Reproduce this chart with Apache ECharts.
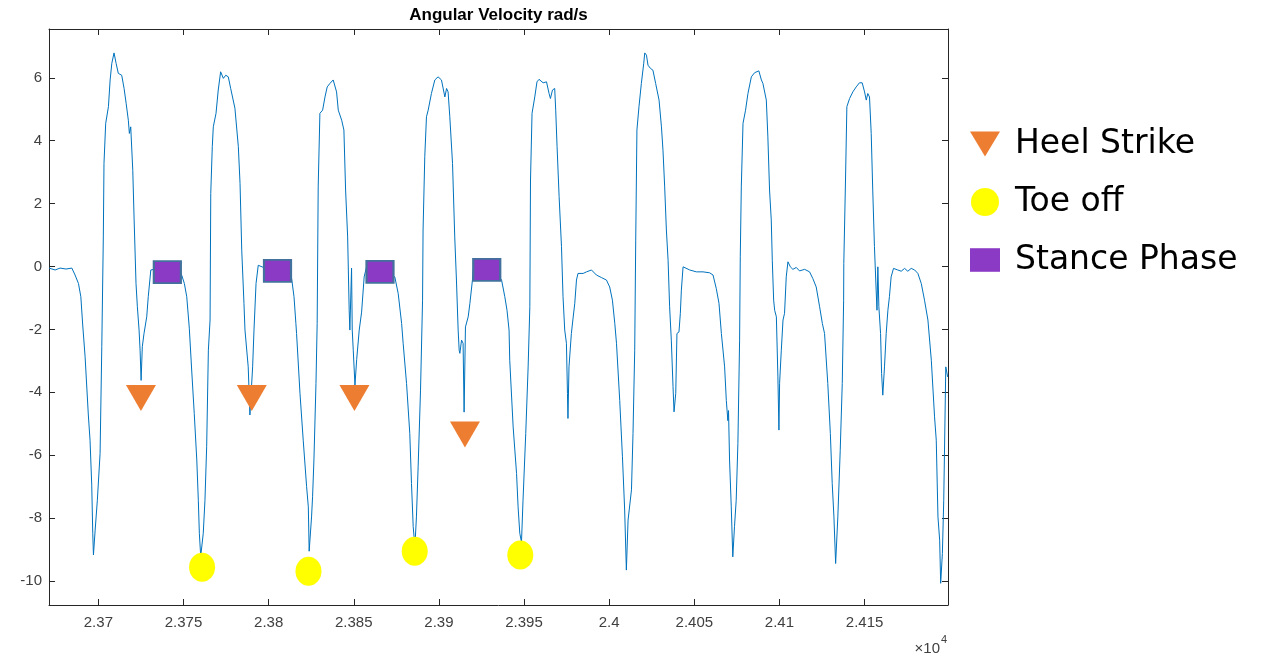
<!DOCTYPE html>
<html>
<head>
<meta charset="utf-8">
<script src="https://cdn.jsdelivr.net/npm/echarts@6/dist/echarts.min.js"></script>
<style>
  html, body { margin: 0; padding: 0; background: #fff; }
  #chart { width: 1266px; height: 656px; }
</style>
</head>
<body>
<div id="chart"></div>
<script>
// Gyroscope trace: sample index and angular velocity (rad/s)
const sampleIdx = [
  23671.0, 23674.6, 23677.5, 23681.0, 23684.4, 23686.3, 23688.3, 23689.7, 23690.8, 23692.2,
  23694.1, 23695.1, 23696.1, 23696.7, 23697.1, 23698.1, 23699.4, 23701.0, 23702.0, 23702.9,
  23703.3, 23704.3, 23705.9, 23706.9, 23707.9, 23709.2, 23710.4, 23711.7, 23713.7, 23715.1,
  23716.3, 23717.6, 23718.2, 23719.0, 23720.2, 23721.0, 23722.1, 23722.9, 23723.9, 23724.5,
  23725.1, 23725.8, 23726.8, 23728.4, 23729.3, 23730.8, 23731.7, 23736.3, 23742.1, 23748.0,
  23748.9, 23750.5, 23751.9, 23753.4, 23754.8, 23756.3, 23757.8, 23758.7, 23759.3, 23760.1,
  23761.6, 23762.6, 23763.6, 23764.6, 23765.6, 23766.0, 23766.9, 23767.5, 23769.1, 23770.4,
  23771.8, 23773.4, 23774.8, 23776.3, 23777.7, 23780.2, 23782.2, 23783.2, 23784.2, 23785.5,
  23786.1, 23788.0, 23789.0, 23790.6, 23791.4, 23792.6, 23793.9, 23797.8, 23803.7, 23809.6,
  23813.5, 23814.9, 23816.0, 23816.4, 23818.4, 23820.3, 23822.3, 23823.3, 23823.8, 23825.2,
  23825.8, 23826.6, 23827.8, 23828.5, 23829.1, 23830.1, 23831.7, 23833.1, 23834.4, 23836.0,
  23837.9, 23839.9, 23840.9, 23842.9, 23844.2, 23845.2, 23846.4, 23847.3, 23847.7, 23848.7,
  23849.1, 23849.7, 23850.7, 23851.7, 23853.2, 23854.6, 23856.1, 23857.5, 23862.4, 23868.3,
  23874.1, 23876.1, 23878.1, 23879.0, 23881.0, 23882.9, 23883.9, 23884.9, 23885.9, 23886.8,
  23887.8, 23889.2, 23890.4, 23890.7, 23891.7, 23892.7, 23893.7, 23895.6, 23897.6, 23899.5,
  23901.5, 23903.5, 23904.5, 23905.4, 23906.4, 23908.0, 23909.3, 23910.3, 23911.3, 23911.9,
  23912.3, 23913.3, 23914.2, 23914.8, 23915.6, 23917.2, 23918.2, 23919.7, 23920.5, 23927.0,
  23932.8, 23936.8, 23938.7, 23940.0, 23941.2, 23941.6, 23943.6, 23945.6, 23946.5, 23947.5,
  23948.5, 23949.4, 23951.0, 23952.4, 23953.4, 23953.8, 23954.7, 23956.3, 23957.6, 23958.8,
  23961.2, 23963.2, 23964.7, 23965.5, 23966.7, 23968.0, 23968.6, 23969.4, 23970.6, 23972.0,
  23972.9, 23973.9, 23974.9, 23975.5, 23975.8, 23976.4, 23977.8, 23978.8, 23979.8, 23980.8,
  23981.7, 23982.7, 23984.7, 23986.7, 23989.6, 23992.5, 23995.4, 23998.4, 24000.3, 24001.9,
  24003.3, 24004.3, 24006.2, 24007.8, 24009.1, 24010.1, 24011.1, 24013.1, 24014.0, 24015.0,
  24015.6, 24016.3, 24017.5, 24018.9, 24020.3, 24020.9, 24021.9, 24022.8, 24024.2, 24025.7,
  24027.3, 24029.3, 24030.7, 24031.6, 24032.6, 24033.6, 24034.6, 24035.5, 24036.5, 24037.5,
  24038.1, 24039.1, 24039.8, 24041.0, 24041.8, 24042.4, 24043.4, 24044.4, 24047.3, 24051.2,
  24055.1, 24059.0, 24061.0, 24062.9, 24064.5, 24065.9, 24067.8, 24068.8, 24069.7, 24070.1,
  24070.7, 24071.7, 24072.6, 24073.6, 24074.6, 24075.6, 24076.6, 24077.0, 24077.6, 24078.6,
  24080.1, 24081.5, 24083.5, 24085.4, 24087.9, 24089.4, 24090.3, 24091.3, 24092.3, 24093.2,
  24094.2, 24095.2, 24095.8, 24096.6, 24097.2, 24098.2, 24099.1, 24099.7, 24100.1, 24101.1,
  24102.1, 24103.0, 24104.0, 24105.0, 24106.4, 24107.9, 24109.9, 24111.8, 24114.8, 24117.7,
  24119.6, 24121.6, 24123.6, 24125.2, 24126.5, 24128.4, 24129.9, 24131.0, 24132.0, 24133.0,
  24134.3, 24135.7, 24136.9, 24137.7, 24137.8, 24138.8, 24139.6, 24141.2, 24143.1, 24145.1,
  24147.0, 24148.6, 24150.0, 24151.0, 24151.9, 24152.9, 24153.9, 24154.8, 24155.8, 24156.8,
  24157.3, 24157.8, 24158.4, 24159.4, 24160.0, 24160.7, 24161.7, 24162.7, 24163.7, 24164.6,
  24165.6, 24167.0, 24169.5, 24171.5, 24173.5, 24175.4, 24177.4, 24179.4, 24181.3, 24183.3,
  24185.2, 24187.2, 24189.2, 24191.1, 24192.1, 24193.1, 24194.1, 24194.7, 24195.7, 24196.5,
  24197.7, 24198.8
];
const angVel = [
  -0.05, -0.11, -0.05, -0.08, -0.05, -0.27, -0.54, -0.96, -1.86, -2.87,
  -4.72, -5.52, -6.95, -8.48, -9.17, -8.38, -7.43, -5.94, -2.55, 0.94,
  3.28, 4.55, 5.08, 5.93, 6.46, 6.79, 6.46, 6.14, 6.08, 5.66,
  5.19, 4.65, 4.23, 4.44, 3.06, 1.48, -0.54, -1.28, -2.02, -2.66,
  -3.62, -2.55, -2.13, -1.60, -0.96, -0.11, -0.05, -0.05, -0.08, -0.15,
  -0.27, -0.54, -0.96, -1.96, -3.29, -4.67, -6.15, -7.43, -8.48, -9.21,
  -8.48, -7.43, -5.73, -2.66, -1.70, 2.32, 3.81, 4.44, 4.87, 5.61,
  6.19, 5.98, 6.08, 6.03, 5.66, 5.03, 3.81, 2.64, 0.52, -1.17,
  -2.02, -3.19, -4.72, -3.19, -2.02, -0.54, 0.04, -0.05, -0.08, -0.18,
  -0.38, -0.96, -1.81, -2.13, -4.03, -5.52, -7.00, -7.64, -9.05, -7.96,
  -7.32, -6.15, -3.72, -1.81, 2.53, 4.87, 4.97, 5.39, 5.71, 5.82,
  5.93, 5.55, 4.97, 4.65, 4.34, 2.43, 0.94, -1.39, -2.02, -0.05,
  -2.02, -2.66, -3.77, -2.96, -2.02, -1.45, -0.33, -0.01, -0.05, -0.11,
  -0.33, -0.86, -1.81, -2.44, -3.72, -5.31, -6.90, -8.27, -8.90, -7.96,
  -6.37, -3.93, -1.07, 1.16, 3.49, 4.76, 4.97, 5.50, 5.93, 6.03,
  5.93, 5.39, 5.66, 5.55, 4.76, 3.28, 0.94, -0.43, -2.02, -2.66,
  -2.76, -2.34, -2.44, -4.63, -1.92, -1.60, -1.17, -0.43, 0.10, 0.01,
  -0.11, -0.43, -0.96, -1.39, -2.02, -2.98, -5.10, -6.58, -7.64, -8.48,
  -8.76, -7.43, -5.31, -3.19, -1.28, 2.75, 4.87, 5.39, 5.87, 5.95,
  5.84, 5.87, 5.50, 5.34, 5.61, 5.66, 4.97, 3.81, 2.22, 0.63,
  -0.96, -2.02, -2.44, -4.03, -4.83, -3.19, -2.13, -1.64, -1.17, -0.43,
  -0.22, -0.17, -0.22, -0.17, -0.11, -0.27, -0.35, -0.43, -0.65, -1.07,
  -1.81, -2.44, -4.26, -6.05, -7.74, -9.65, -8.06, -7.10, -5.31, -2.66,
  0.84, 4.34, 5.08, 5.82, 6.46, 6.79, 6.72, 6.40, 6.30, 6.24,
  5.82, 5.29, 4.44, 3.70, 2.53, 1.16, 0.20, -1.28, -2.34, -3.82,
  -4.62, -4.03, -2.13, -2.08, -1.49, -0.75, -0.01, -0.06, -0.11, -0.17,
  -0.17, -0.20, -0.27, -0.70, -1.17, -2.13, -3.19, -4.26, -4.90, -4.58,
  -6.15, -7.64, -9.23, -8.27, -7.43, -5.62, -2.34, 0.31, 2.53, 4.55,
  4.97, 5.50, 6.03, 6.16, 6.22, 5.93, 5.82, 5.87, 5.29, 4.12,
  2.43, 1.48, 0.20, -1.07, -1.39, -1.60, -3.51, -5.20, -3.71, -2.66,
  -1.70, -1.49, -0.33, 0.15, -0.01, -0.09, -0.03, -0.14, -0.09, -0.17,
  -0.38, -0.65, -1.28, -1.81, -2.13, -3.72, -5.31, -6.90, -7.96, -9.44,
  -7.96, -5.84, -3.72, -1.07, 0.10, 2.75, 5.08, 5.34, 5.55, 5.71,
  5.84, 5.84, 5.55, 5.29, 5.50, 5.39, 4.23, 2.43, 0.63, -0.75,
  -1.39, -0.01, -1.28, -2.13, -3.40, -4.09, -3.19, -2.13, -1.39, -0.96,
  -0.33, -0.06, -0.11, -0.15, -0.06, -0.15, -0.06, -0.11, -0.22, -0.54,
  -1.07, -1.70, -2.98, -4.78, -5.52, -7.96, -8.70, -10.07, -9.12, -7.43,
  -3.19, -3.51
];

// Gait events
const heelStrikeX = [23725.0, 23790.1, 23850.4, 23915.3];
const heelStrikeY = [-4.18, -4.18, -4.18, -5.34];
const toeOffX = [23760.9, 23823.4, 23885.8, 23947.8];
const toeOffY = [-9.56, -9.69, -9.05, -9.17];
const stanceX = [23740.5, 23805.2, 23865.4, 23928.1];
const stanceY = [-0.18, -0.14, -0.17, -0.11];

// Axis extents
const xRange = [23671, 24199];
const yRange = [-10.76, 7.55];

const pairs = (xs, ys) => xs.map((x, i) => [x, ys[i]]);

const axisColor = '#262626';
const labelColor = '#404040';
const axisFont = 'Liberation Sans, Arial, Helvetica, sans-serif';
const downTriangle = 'path://M0,0 L31,0 L15.5,26 Z';
const box = 'path://M0,0 L28,0 L28,22 L0,22 Z';

const fmtX = v => String(parseFloat((v / 1e4).toFixed(4)));

function xAxisDef(pos, showLabels) {
  return {
    type: 'value', position: pos, min: xRange[0], max: xRange[1], splitNumber: 10,
    axisLine: { show: true, onZero: false, lineStyle: { color: axisColor, width: 1 } },
    axisTick: { show: true, inside: true, length: 6, lineStyle: { color: axisColor, width: 1 } },
    axisLabel: {
      show: showLabels, showMinLabel: false, showMaxLabel: false, formatter: fmtX,
      color: labelColor, fontSize: 15, fontFamily: axisFont, margin: 10
    },
    splitLine: { show: false }
  };
}
function yAxisDef(pos, showLabels) {
  return {
    type: 'value', position: pos, min: yRange[0], max: yRange[1], splitNumber: 9,
    axisLine: { show: true, onZero: false, lineStyle: { color: axisColor, width: 1 } },
    axisTick: { show: true, inside: true, length: 6, lineStyle: { color: axisColor, width: 1 } },
    axisLabel: {
      show: showLabels, showMinLabel: false, showMaxLabel: false,
      color: labelColor, fontSize: 15, fontFamily: axisFont, margin: 7
    },
    splitLine: { show: false }
  };
}

const chart = echarts.init(document.getElementById('chart'));
chart.setOption({
  animation: false,
  backgroundColor: '#ffffff',
  title: {
    text: 'Angular Velocity rad/s',
    left: 498.5, top: 7, padding: 0, textAlign: 'center',
    textStyle: { fontFamily: axisFont, fontWeight: 'bold', fontSize: 17, color: '#000' }
  },
  grid: { left: 49, right: 318, top: 29, bottom: 51, containLabel: false },
  xAxis: [xAxisDef('bottom', true), xAxisDef('top', false)],
  yAxis: [yAxisDef('left', true), yAxisDef('right', false)],
  legend: {
    orient: 'vertical', left: 970, top: 123, padding: 0,
    itemWidth: 30, itemHeight: 28, itemGap: 16,
    selectedMode: false,
    textStyle: { fontFamily: 'DejaVu Sans, sans-serif', fontSize: 33, color: '#000', lineHeight: 36, padding: [6, 0, 0, 10] },
    data: [
      { name: 'Heel Strike', icon: downTriangle },
      { name: 'Toe off', icon: 'circle' },
      { name: 'Stance Phase', icon: box, itemStyle: { borderWidth: 0 } }
    ]
  },
  graphic: [
    { type: 'text', x: 940, y: 649, style: { text: '×10', font: '15px Liberation Sans, Arial, sans-serif', fill: labelColor, align: 'right', textAlign: 'right', verticalAlign: 'middle', textVerticalAlign: 'middle' } },
    { type: 'text', x: 941, y: 640, style: { text: '4', font: '11px Liberation Sans, Arial, sans-serif', fill: labelColor, align: 'left', textAlign: 'left', verticalAlign: 'middle', textVerticalAlign: 'middle' } }
  ],
  series: [
    {
      name: 'Angular Velocity', type: 'line', xAxisIndex: 0, yAxisIndex: 0,
      data: pairs(sampleIdx, angVel), showSymbol: false, symbol: 'none',
      lineStyle: { color: '#0072BD', width: 1 }, silent: true, z: 2
    },
    {
      name: 'Heel Strike', type: 'scatter', data: pairs(heelStrikeX, heelStrikeY),
      symbol: downTriangle, symbolSize: [30, 26], itemStyle: { color: '#ED7D31', opacity: 1 }, z: 5
    },
    {
      name: 'Toe off', type: 'scatter', data: pairs(toeOffX, toeOffY),
      symbol: 'circle', symbolSize: [26, 29], itemStyle: { color: '#FFFF00', opacity: 1 }, z: 5
    },
    {
      name: 'Stance Phase', type: 'scatter', data: pairs(stanceX, stanceY),
      symbol: 'rect', symbolSize: [27, 22],
      itemStyle: { color: '#8B3AC6', borderColor: '#41719C', borderWidth: 2, opacity: 1 }, z: 5
    }
  ]
});
</script>
</body>
</html>
